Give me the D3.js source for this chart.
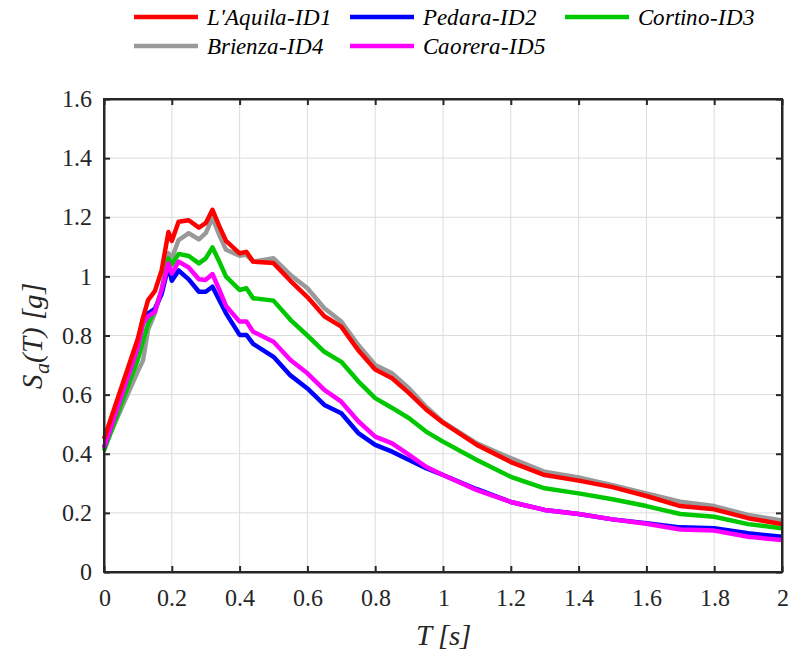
<!DOCTYPE html>
<html>
<head>
<meta charset="utf-8">
<script src="https://cdn.jsdelivr.net/npm/d3@7"></script>
<style>
  @font-face { font-family: "ChartSerif"; font-style: normal; src: local("Liberation Serif"), local("LiberationSerif"); }
  @font-face { font-family: "ChartSerif"; font-style: italic; src: local("Liberation Serif Italic"), local("LiberationSerif-Italic"); }
  html, body { margin: 0; padding: 0; background: #fff; }
  svg { display: block; }
  svg#chart text.lbl { font-family: ChartSerif, 'Liberation Serif', serif !important; }
</style>
</head>
<body>
<svg id="chart" width="790" height="656"></svg>
<script>
// ---- data ----
const periods = [0, 0.1, 0.115, 0.13, 0.15, 0.17, 0.19, 0.2, 0.22, 0.25, 0.28, 0.3, 0.32, 0.34, 0.36, 0.4, 0.42, 0.44, 0.5, 0.55, 0.6, 0.65, 0.7, 0.75, 0.8, 0.85, 0.9, 0.95, 1.0, 1.1, 1.2, 1.3, 1.4, 1.5, 1.6, 1.7, 1.8, 1.9, 2.0];
const laquila = [0.45, 0.79, 0.86, 0.92, 0.95, 1.02, 1.15, 1.12, 1.185, 1.19, 1.165, 1.18, 1.225, 1.17, 1.12, 1.078, 1.083, 1.05, 1.045, 0.985, 0.93, 0.865, 0.83, 0.75, 0.685, 0.655, 0.605, 0.55, 0.505, 0.43, 0.372, 0.328, 0.309, 0.287, 0.257, 0.223, 0.212, 0.182, 0.162];
const pedara = [0.42, 0.78, 0.855, 0.875, 0.89, 0.94, 1.035, 0.985, 1.02, 0.99, 0.948, 0.948, 0.965, 0.92, 0.875, 0.802, 0.802, 0.772, 0.728, 0.665, 0.621, 0.565, 0.537, 0.47, 0.43, 0.407, 0.379, 0.351, 0.328, 0.28, 0.237, 0.21, 0.196, 0.178, 0.165, 0.151, 0.148, 0.131, 0.119];
const cortino = [0.41, 0.72, 0.78, 0.84, 0.886, 0.95, 1.06, 1.04, 1.076, 1.069, 1.044, 1.061, 1.098, 1.05, 0.999, 0.954, 0.96, 0.926, 0.918, 0.853, 0.8, 0.745, 0.711, 0.645, 0.588, 0.555, 0.52, 0.475, 0.441, 0.379, 0.322, 0.283, 0.266, 0.246, 0.223, 0.196, 0.187, 0.162, 0.148];
const brienza = [0.42, 0.68, 0.715, 0.82, 0.875, 0.955, 1.078, 1.061, 1.123, 1.146, 1.125, 1.146, 1.197, 1.14, 1.09, 1.07, 1.073, 1.05, 1.061, 1.005, 0.96, 0.892, 0.847, 0.768, 0.70, 0.672, 0.621, 0.559, 0.508, 0.435, 0.385, 0.339, 0.32, 0.294, 0.266, 0.238, 0.223, 0.193, 0.174];
const caorera = [0.42, 0.76, 0.84, 0.865, 0.88, 0.955, 1.044, 1.01, 1.05, 1.03, 0.99, 0.988, 1.008, 0.955, 0.9, 0.847, 0.847, 0.813, 0.779, 0.717, 0.672, 0.616, 0.576, 0.51, 0.458, 0.435, 0.396, 0.356, 0.328, 0.277, 0.237, 0.21, 0.196, 0.178, 0.163, 0.144, 0.14, 0.119, 0.108];
const seriesNames = ["L'Aquila-ID1", "Pedara-ID2", "Cortino-ID3", "Brienza-ID4", "Caorera-ID5"];
const seriesColors = ["#ff0000", "#0000ff", "#00c800", "#999999", "#ff00ff"];
const xTicks = [0, 0.2, 0.4, 0.6, 0.8, 1, 1.2, 1.4, 1.6, 1.8, 2];
const yTicks = [0, 0.2, 0.4, 0.6, 0.8, 1, 1.2, 1.4, 1.6];

const seriesValues = [laquila, pedara, cortino, brienza, caorera];
const drawOrder = [3, 2, 1, 4, 0];

function serif(sel, size, italic) {
  sel.classed("lbl", true)
     .attr("font-family", "Liberation Serif")
     .attr("font-size", size)
     .style("font-size", size + "px");
  if (italic) sel.attr("font-style", "italic").style("font-style", "italic");
  return sel;
}

// ---- layout ----
const svg = d3.select("#chart");
const L = 104, R = 782, T = 99, B = 572;
const x = d3.scaleLinear().domain([0, 2]).range([L, R]);
const y = d3.scaleLinear().domain([0, 1.6]).range([B, T]);

// grid
const grid = svg.append("g");
grid.selectAll("line.vx").data(xTicks).join("line")
  .attr("x1", d => x(d)).attr("x2", d => x(d)).attr("y1", T).attr("y2", B)
  .attr("stroke", "#dcdcdc").attr("stroke-width", 1);
grid.selectAll("line.hy").data(yTicks).join("line")
  .attr("x1", L).attr("x2", R).attr("y1", d => y(d)).attr("y2", d => y(d))
  .attr("stroke", "#dcdcdc").attr("stroke-width", 1);

// lines
const line = d3.line().x((d, i) => x(periods[i])).y(d => y(d));
const plot = svg.append("g");
drawOrder.forEach(k => {
  plot.append("path").datum(seriesValues[k])
    .attr("d", line)
    .attr("fill", "none")
    .attr("stroke", seriesColors[k])
    .attr("stroke-width", 4.5)
    .attr("stroke-linejoin", "round");
});

// axes (box with inward ticks)
const tickLen = 6;
const axCol = "#262626";
const fmt = d => (d === 0 || d === 1 || d === 2) ? String(d) : d3.format(".1f")(d);

const xb = svg.append("g").attr("transform", `translate(0,${B})`)
  .call(d3.axisBottom(x).tickValues(xTicks).tickSizeInner(-tickLen).tickSizeOuter(0).tickPadding(17).tickFormat(fmt));
const xt = svg.append("g").attr("transform", `translate(0,${T})`)
  .call(d3.axisTop(x).tickValues(xTicks).tickSizeInner(-tickLen).tickSizeOuter(0).tickFormat(""));
const yl = svg.append("g").attr("transform", `translate(${L},0)`)
  .call(d3.axisLeft(y).tickValues(yTicks).tickSizeInner(-tickLen).tickSizeOuter(0).tickPadding(12).tickFormat(fmt));
const yr = svg.append("g").attr("transform", `translate(${R},0)`)
  .call(d3.axisRight(y).tickValues(yTicks).tickSizeInner(-tickLen).tickSizeOuter(0).tickFormat(""));

[xb, xt, yl, yr].forEach(g => {
  g.attr("font-family", "Liberation Serif").attr("font-size", 24);
  g.select(".domain").attr("stroke", axCol).attr("stroke-width", 2);
  g.selectAll(".tick line").attr("stroke", axCol).attr("stroke-width", 2);
  serif(g.selectAll(".tick text").attr("fill", "#262626"), 24, false);
});
svg.append("rect").attr("x", L).attr("y", T).attr("width", R - L).attr("height", B - T)
  .attr("fill", "none").attr("stroke", axCol).attr("stroke-width", 2);

// axis labels
serif(svg.append("text")
  .attr("x", (L + R) / 2).attr("y", 645)
  .attr("text-anchor", "middle")
  .attr("fill", "#262626"), 29, true)
  .text("T [s]");

const yLab = serif(svg.append("text")
  .attr("transform", `translate(42,${(T + B) / 2}) rotate(-90)`)
  .attr("text-anchor", "middle")
  .attr("fill", "#262626"), 29, true);
yLab.append("tspan").text("S");
yLab.append("tspan").attr("dy", 7).style("font-size", "22px").text("a");
yLab.append("tspan").attr("dy", -7).text("(T) [g]");

// legend
const legendPos = [
  {lx: 134, ty: 17}, {lx: 350, ty: 17}, {lx: 565, ty: 17},
  {lx: 134, ty: 46}, {lx: 350, ty: 46}
];
const leg = svg.append("g");
seriesNames.forEach((name, i) => {
  const p = legendPos[i];
  leg.append("line")
    .attr("x1", p.lx).attr("x2", p.lx + 64).attr("y1", p.ty).attr("y2", p.ty)
    .attr("stroke", seriesColors[i]).attr("stroke-width", 4.5);
  serif(leg.append("text")
    .attr("x", p.lx + 73).attr("y", p.ty + 8)
    .attr("fill", "#000"), 23, true)
    .text(name);
});
</script>
</body>
</html>
